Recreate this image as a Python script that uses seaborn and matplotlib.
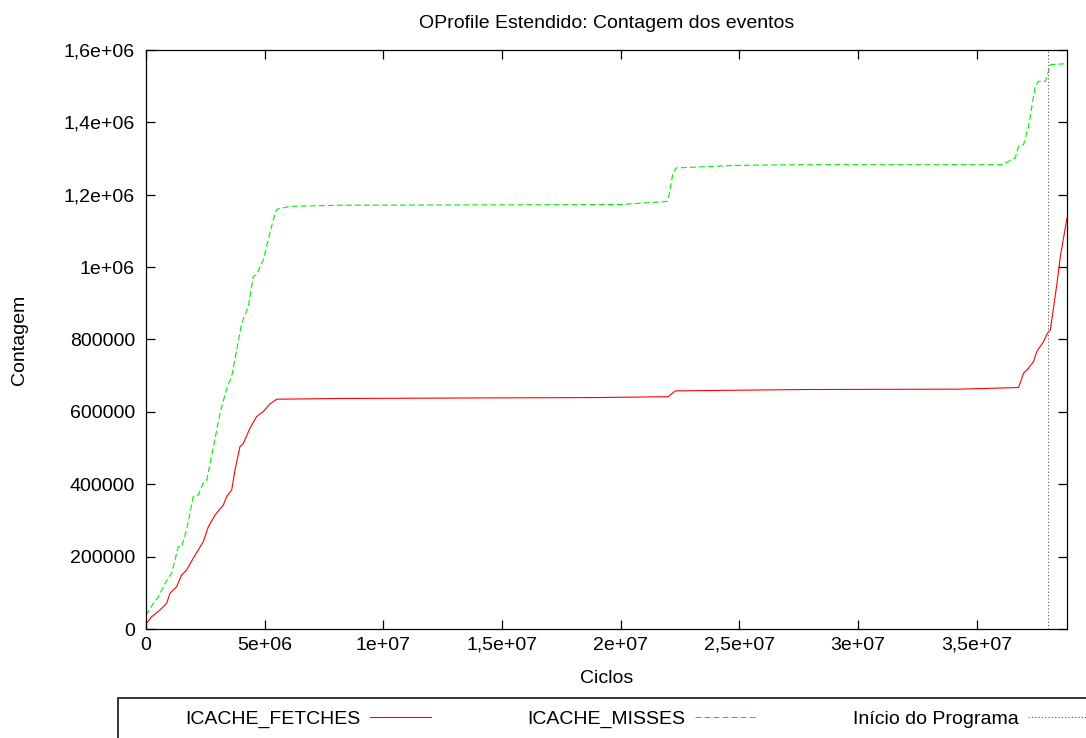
import matplotlib
matplotlib.use("Agg")
import matplotlib.pyplot as plt
from matplotlib.lines import Line2D
from matplotlib.patches import Rectangle
import numpy as np
import pandas as pd
import seaborn as sns

# ---- data -------------------------------------------------------------
fetches_x = [0.0, 0.24e6, 0.59e6, 0.87e6, 1.01e6, 1.29e6, 1.50e6, 1.71e6, 1.99e6,
             2.20e6, 2.41e6, 2.63e6, 2.91e6, 3.26e6, 3.40e6, 3.61e6, 3.75e6, 3.96e6,
             4.10e6, 4.38e6, 4.66e6, 4.94e6, 5.22e6, 5.51e6, 8.2e6, 14.0e6, 19.1e6,
             22.0e6, 22.3e6, 27.6e6, 34.3e6, 36.76e6, 36.97e6, 37.18e6, 37.39e6,
             37.53e6, 37.81e6, 37.98e6, 38.10e6, 38.38e6, 38.52e6, 38.80e6]
fetches_y = [14000, 34000, 52500, 71000, 98700, 117000, 149000, 163000, 195500,
             218000, 241000, 283000, 315000, 343000, 366000, 384000, 440000, 504000,
             513000, 555000, 587000, 601000, 622000, 635000, 637000, 638500, 639600,
             642000, 658000, 661700, 662800, 667300, 707000, 721000, 739000,
             767000, 794000, 817500, 827000, 956000, 1029500, 1136000]

misses_x = [0.0, 0.31e6, 0.52e6, 0.80e6, 1.08e6, 1.36e6, 1.50e6, 1.71e6, 1.99e6,
            2.20e6, 2.41e6, 2.56e6, 2.84e6, 3.12e6, 3.40e6, 3.61e6, 3.82e6, 4.03e6,
            4.31e6, 4.52e6, 4.66e6, 4.94e6, 5.15e6, 5.36e6, 5.51e6, 6.07e6, 8.2e6,
            14.0e6, 20.0e6, 21.94e6, 22.0e6, 22.2e6, 22.33e6, 24.75e6, 27.56e6,
            30.93e6, 36.06e6, 36.62e6, 36.76e6, 36.97e6, 37.18e6, 37.46e6, 37.60e6,
            37.89e6, 38.10e6, 38.80e6]
misses_y = [38000, 71000, 89000, 126000, 154000, 227500, 227500, 274000, 366000,
            370000, 403000, 412000, 504000, 596000, 665000, 698000, 771000, 845000,
            891000, 974000, 979000, 1020000, 1075000, 1131000, 1160000, 1168000, 1171000,
            1172000, 1173000, 1181500, 1186000, 1260000, 1274000, 1281000, 1283000,
            1283000, 1283000, 1301500, 1333700, 1338000, 1389000, 1499500, 1513400,
            1513400, 1559500, 1562300]

program_start = [38.0e6]

x_ticks = [0, 5e6, 1e7, 1.5e7, 2e7, 2.5e7, 3e7, 3.5e7]
x_tick_labels = ["0", "5e+06", "1e+07", "1,5e+07", "2e+07", "2,5e+07", "3e+07", "3,5e+07"]
y_ticks = [0, 2e5, 4e5, 6e5, 8e5, 1e6, 1.2e6, 1.4e6, 1.6e6]
y_tick_labels = ["0", "200000", "400000", "600000", "800000", "1e+06",
                 "1,2e+06", "1,4e+06", "1,6e+06"]

labels = ["ICACHE_FETCHES", "ICACHE_MISSES", "Início do Programa"]

RED = "#ff0000"
GREEN = "#00f000"
GREY = "#555555"
FS = 14

# ---- style ------------------------------------------------------------
sns.set_theme(style="white")
plt.rcParams["font.family"] = ["Liberation Sans", "DejaVu Sans"]
plt.rcParams.update({
    "font.size": FS,
    "text.color": "black",
    "axes.labelcolor": "black",
    "axes.linewidth": 0.9,
    "axes.edgecolor": "black",
    "xtick.direction": "in",
    "ytick.direction": "in",
    "xtick.top": True,
    "ytick.right": True,
    "xtick.bottom": True,
    "ytick.left": True,
    "xtick.major.size": 6.5,
    "ytick.major.size": 6.5,
    "xtick.major.width": 0.9,
    "ytick.major.width": 0.9,
    "xtick.major.pad": 5.5,
    "ytick.major.pad": 8,
    "xtick.color": "black",
    "ytick.color": "black",
    "xtick.labelcolor": "black",
    "ytick.labelcolor": "black",
    "lines.scale_dashes": False,
})

W, H = 1086, 738
fig = plt.figure(figsize=(W / 100, H / 100), dpi=100)
ax = fig.add_axes([146 / W, 1 - 629 / H, (1067 - 146) / W, (629 - 50) / H])

df_f = pd.DataFrame({"Ciclos": fetches_x, "Contagem": fetches_y})
df_m = pd.DataFrame({"Ciclos": misses_x, "Contagem": misses_y})

sns.lineplot(data=df_f, x="Ciclos", y="Contagem", ax=ax, color=RED,
             linewidth=0.8, estimator=None, sort=False)
sns.lineplot(data=df_m, x="Ciclos", y="Contagem", ax=ax, color=GREEN,
             linewidth=0.8, estimator=None, sort=False)
ax.lines[-1].set_dashes((4.3, 2.2))
for xv in program_start:
    ax.axvline(xv, color=GREY, linewidth=0.8, linestyle=(0, (0.8, 1.6)))

ax.set_xlim(0, 3.88e7)
ax.set_ylim(0, 1.6e6)
ax.set_xticks(x_ticks)
ax.set_xticklabels(x_tick_labels)
ax.set_yticks(y_ticks)
ax.set_yticklabels(y_tick_labels)
ax.tick_params(labelsize=FS)

ax.set_title("OProfile Estendido: Contagem dos eventos", fontsize=FS, pad=16,
             color="black")
ax.set_xlabel("Ciclos", fontsize=FS, labelpad=12)
ax.set_ylabel("Contagem", fontsize=FS, labelpad=26)

# ---- key --------------------------------------------------------------
handles = [
    Line2D([], [], color=RED, linewidth=0.8),
    Line2D([], [], color=GREEN, linewidth=0.8, dashes=(4.3, 2.2)),
    Line2D([], [], color=GREY, linewidth=0.8, linestyle=(0, (0.8, 1.6))),
]
leg = fig.legend(handles, labels, loc="center left",
                 bbox_to_anchor=(185 / W, 1 - 719 / H), ncol=3, markerfirst=False,
                 frameon=False, borderpad=0, borderaxespad=0, fontsize=FS,
                 handlelength=3.15, handletextpad=0.5, columnspacing=4.95)
for t in leg.get_texts():
    t.set_color("black")
fig.add_artist(Rectangle((118 / W, -0.05), 1.0, (738 - 698) / H + 0.05,
                         transform=fig.transFigure, fill=False,
                         edgecolor="black", linewidth=1.1))

fig.savefig("out.png", dpi=100)
